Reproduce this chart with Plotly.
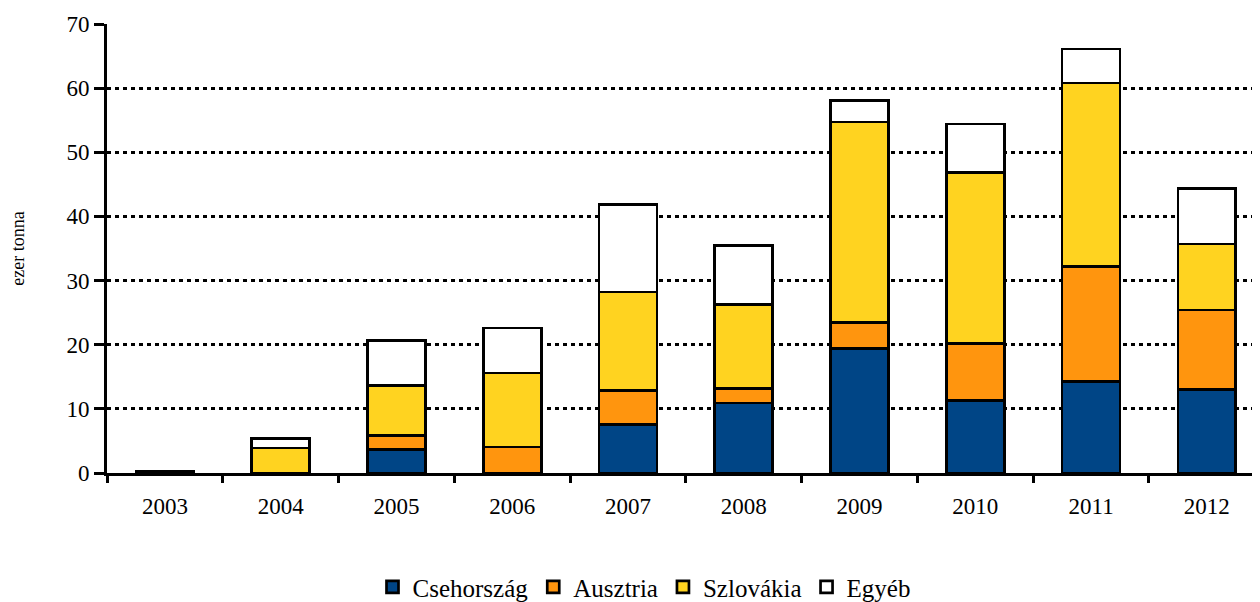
import plotly.graph_objects as go

years = ["2003", "2004", "2005", "2006", "2007", "2008", "2009", "2010", "2011", "2012"]
cseh = [0, 0, 3.7, 0, 7.6, 10.9, 19.4, 11.3, 14.3, 13.0]
ausztria = [0, 0, 2.2, 4.05, 5.3, 2.3, 4.1, 8.9, 17.9, 12.4]
szlovakia = [0, 3.9, 7.7, 11.55, 15.3, 13.1, 31.2, 26.6, 28.6, 10.3]
egyeb = [0.2, 1.5, 7.1, 7.0, 13.7, 9.2, 3.4, 7.6, 5.3, 8.7]

series = [
    ("Csehország", cseh, "#004586"),
    ("Ausztria", ausztria, "#FF950E"),
    ("Szlovákia", szlovakia, "#FFD320"),
    ("Egyéb", egyeb, "#FFFFFF"),
]

FONT = "Liberation Serif, Times New Roman, serif"

fig = go.Figure()
for name, vals, col in series:
    fig.add_trace(go.Bar(
        x=years, y=vals, name=name,
        marker=dict(color=col, line=dict(color="black", width=2.7)),
        width=0.5,
    ))

fig.update_layout(
    barmode="stack",
    width=1244, height=602,
    margin=dict(l=99, r=0, t=16, b=137),
    paper_bgcolor="white", plot_bgcolor="white",
    font=dict(family=FONT, size=23, color="black"),
    showlegend=True,
    legend=dict(
        orientation="h", x=0.469, xanchor="center",
        yref="container", y=0.038, yanchor="middle",
        font=dict(family=FONT, size=25, color="black"),
        traceorder="normal", itemwidth=30,
    ),
)
fig.update_xaxes(
    automargin=False,
    range=[-0.5, 9.39],
    showline=True, linecolor="black", linewidth=3,
    ticks="outside", tickson="boundaries", ticklen=7, tickwidth=2.5, tickcolor="black",
    ticklabelstandoff=10,
    showgrid=False,
    tickfont=dict(family=FONT, size=23, color="black"),
)
fig.update_yaxes(
    automargin=False,
    range=[0, 70], dtick=10,
    showline=True, linecolor="black", linewidth=3,
    ticks="outside", ticklen=10, tickwidth=2.5, tickcolor="black",
    showgrid=True, gridcolor="black", gridwidth=2.5, griddash="4px,4px",
    zeroline=False,
    tickfont=dict(family=FONT, size=23, color="black"),
    title=dict(text="ezer tonna", font=dict(family=FONT, size=18, color="black"), standoff=41),
)

fig.write_html("out.html")
